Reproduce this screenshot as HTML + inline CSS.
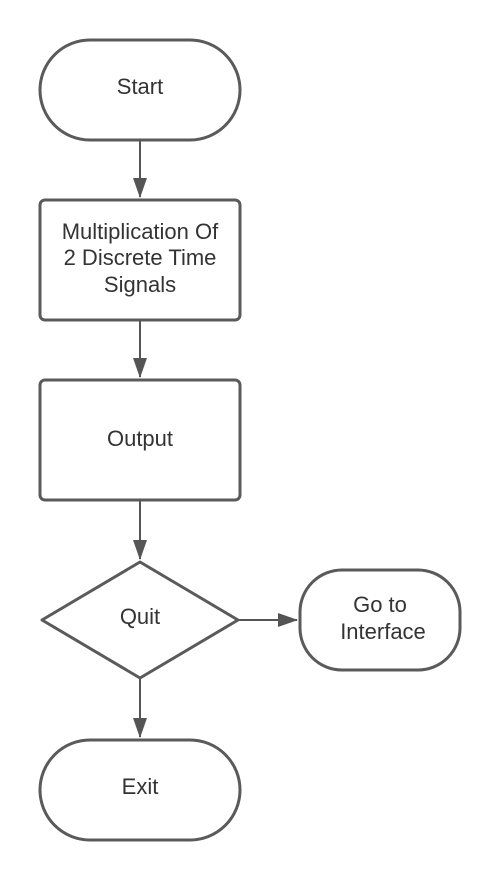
<!DOCTYPE html>
<html><head><style>html,body{margin:0;padding:0;background:#fff}</style></head><body>
<svg width="500" height="880" xmlns="http://www.w3.org/2000/svg" style="display:block">
<defs><marker id="b" markerWidth="20" markerHeight="14" refX="19" refY="7" orient="auto" markerUnits="userSpaceOnUse"><path d="M0,0 L20,7 L0,14 z" fill="#555"/></marker></defs>
<g fill="#fff" stroke="#5a5a5a" stroke-width="3">
<rect x="40" y="40" width="200" height="100" rx="50"/>
<rect x="40" y="200" width="200" height="120" rx="5"/>
<rect x="40" y="380" width="200" height="120" rx="5"/>
<path d="M140,562 L238,620 L140,678 L42,620 Z" stroke-linejoin="round"/>
<rect x="300" y="570" width="160" height="100" rx="42"/>
<rect x="40" y="740" width="200" height="100" rx="50"/>
</g>
<g stroke="#555" stroke-width="2" fill="none">
<line x1="140" y1="141" x2="140" y2="197" marker-end="url(#b)"/>
<line x1="140" y1="321" x2="140" y2="377" marker-end="url(#b)"/>
<line x1="140" y1="501" x2="140" y2="559" marker-end="url(#b)"/>
<line x1="140" y1="679" x2="140" y2="737" marker-end="url(#b)"/>
<line x1="239" y1="620" x2="297" y2="620" marker-end="url(#b)"/>
</g>
<g font-family="Liberation Sans, sans-serif" font-size="22" fill="#333" text-anchor="middle">
<text x="140" y="94">Start</text>
<text x="140" y="239">Multiplication Of</text>
<text x="140" y="265">2 Discrete Time</text>
<text x="140" y="292">Signals</text>
<text x="140" y="446">Output</text>
<text x="140" y="624">Quit</text>
<text x="380" y="612">Go to</text>
<text x="383" y="639">Interface</text>
<text x="140" y="794">Exit</text>
</g>
</svg>
</body></html>
